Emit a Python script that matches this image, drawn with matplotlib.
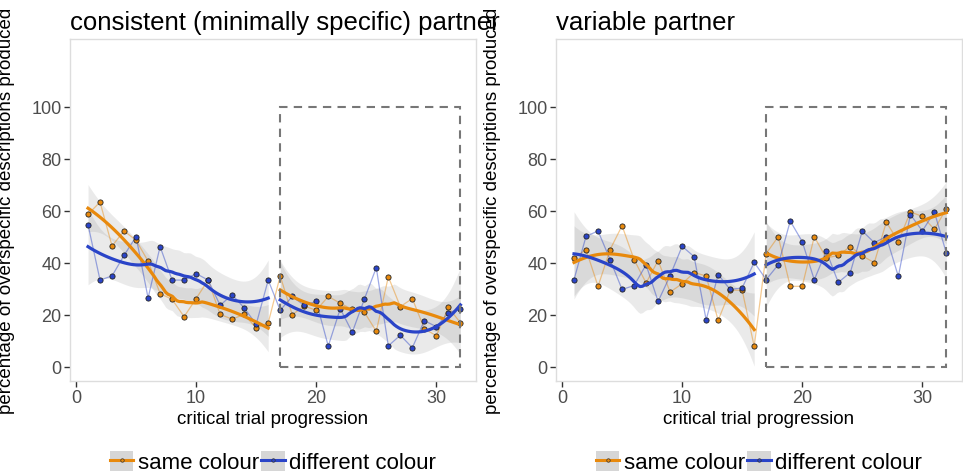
import numpy as np
import matplotlib
matplotlib.use("Agg")
import matplotlib.pyplot as plt
from matplotlib.lines import Line2D
from matplotlib.patches import Patch, Rectangle

plt.rcParams['font.family'] = ['Liberation Sans', 'DejaVu Sans']

trials = np.arange(1, 33)

# consistent (minimally specific) partner
cons_same = [58.6, 63.3, 46.4, 52.2, 48.6, 40.6, 28.1, 25.9, 19.2, 26.2, 33.3, 20.1, 18.3, 20.1, 14.9, 16.8,
             34.9, 20.0, 23.3, 21.7, 27.0, 24.4, 22.0, 21.0, 13.6, 34.6, 23.1, 26.2, 14.6, 11.9, 22.8, 16.9]
cons_diff = [54.6, 33.3, 34.9, 42.8, 50.0, 26.4, 46.2, 33.3, 33.3, 35.8, 33.3, 23.6, 27.7, 22.6, 16.3, 33.3,
             21.7, 27.0, 23.6, 25.1, 7.9, 22.3, 13.2, 25.9, 38.1, 8.0, 12.1, 7.3, 17.7, 15.4, 20.7, 22.3]

# variable partner
var_same = [41.8, 45.0, 30.9, 45.0, 54.2, 41.2, 32.2, 40.8, 28.7, 31.9, 36.2, 34.9, 17.8, 29.4, 29.4, 7.8,
            43.5, 50.0, 30.9, 30.9, 50.0, 41.8, 42.8, 46.2, 42.6, 40.0, 55.6, 48.1, 59.5, 57.8, 52.8, 60.8]
var_diff = [33.5, 50.1, 52.2, 41.2, 29.7, 31.2, 39.2, 25.1, 35.0, 46.3, 42.3, 18.0, 35.4, 29.7, 30.3, 40.1,
            33.5, 39.2, 56.0, 48.1, 33.4, 44.5, 32.4, 36.2, 52.2, 47.7, 50.0, 34.7, 58.5, 52.2, 59.5, 43.6]

panels = [("consistent (minimally specific) partner", cons_same, cons_diff),
          ("variable partner", var_same, var_diff)]
series_labels = ["same colour", "different colour"]
ORANGE = '#E8890C'
BLUE = '#2A44C8'


def loess(x, y, xs, span=0.75, tval=2.2):
    # local quadratic fit with tricube weights (like ggplot's default smoother)
    x = np.asarray(x, float)
    y = np.asarray(y, float)
    n = len(x)
    q = int(np.floor(n * span))

    def row(x0):
        d = np.abs(x - x0)
        h = np.sort(d)[q - 1] * 1.0001
        w = np.clip(1 - (d / h) ** 3, 0, None) ** 3
        X = np.column_stack([np.ones(n), x - x0, (x - x0) ** 2])
        A = X.T @ (w[:, None] * X)
        return (np.linalg.solve(A, X.T * w))[0]

    L = np.array([row(xi) for xi in x])
    M = np.eye(n) - L
    R = M.T @ M
    d1 = np.trace(R)
    sigma = np.sqrt(np.sum((M @ y) ** 2) / d1)
    rows = np.array([row(x0) for x0 in xs])
    fit = rows @ y
    se = sigma * np.sqrt(np.sum(rows ** 2, axis=1))
    return fit, fit - tval * se, fit + tval * se


fig = plt.figure(figsize=(9.63, 4.77), dpi=100)
lefts = [70 / 963, 556 / 963]

for (title, same, diff), left in zip(panels, lefts):
    ax = fig.add_axes([left, 1 - 382 / 477, 406 / 963, 342 / 477])
    same = np.array(same)
    diff = np.array(diff)

    # smoothers per half
    for lo, hi in [(1, 16), (17, 32)]:
        m = (trials >= lo) & (trials <= hi)
        xs = np.linspace(lo, hi, 80)
        for vals, col in [(same, ORANGE), (diff, BLUE)]:
            fit, low, up = loess(trials[m], vals[m], xs)
            ax.fill_between(xs, low, up, color='#999999', alpha=0.2, lw=0, zorder=1)

    for vals, col in [(same, ORANGE), (diff, BLUE)]:
        ax.plot(trials, vals, color=col, lw=0.9, alpha=0.45, zorder=2)
        ax.scatter(trials, vals, s=14, color=col, edgecolors='#222222', linewidths=0.6, zorder=3)

    for lo, hi in [(1, 16), (17, 32)]:
        m = (trials >= lo) & (trials <= hi)
        xs = np.linspace(lo, hi, 80)
        for vals, col in [(same, ORANGE), (diff, BLUE)]:
            fit, low, up = loess(trials[m], vals[m], xs)
            ax.plot(xs, fit, color=col, lw=2.3, zorder=4)

    ax.add_patch(Rectangle((17, 0), 15, 100, fill=False, ec='#777777', lw=1.5,
                           ls=(0, (4, 3)), zorder=5))

    ax.set_xlim(-0.5, 33.3)
    ax.set_ylim(-5.5, 126)
    ax.set_xticks([0, 10, 20, 30])
    ax.set_yticks([0, 20, 40, 60, 80, 100])
    ax.tick_params(length=4, width=1, color='#333333', labelsize=13, labelcolor='#4d4d4d', pad=2)
    for s in ax.spines.values():
        s.set_color('#dddddd')
        s.set_linewidth(1)

    ax.set_title(title, loc='left', fontsize=18.5, pad=7)
    ax.set_xlabel('critical trial progression', fontsize=13.5)
    ax.set_ylabel('percentage of overspecific descriptions produced', fontsize=13.5)
    ax.xaxis.set_label_coords(0.5, -0.085)
    ax.yaxis.set_label_coords(-0.135, 0.5)

    handles = []
    for col in [ORANGE, BLUE]:
        handles.append((Patch(facecolor='#d6d6d6', edgecolor='none'),
                        Line2D([], [], color=col, lw=2.2, marker='o', ms=2.5,
                               mfc=col, mec='#333333', mew=0.5)))
    ax.legend(handles, series_labels, loc='center', bbox_to_anchor=(0.5, -0.237), ncol=2,
              frameon=False, fontsize=16, handlelength=1.05, handleheight=1.05,
              handletextpad=0.2, columnspacing=0.12, borderaxespad=0)

fig.savefig('out.png', dpi=100)
